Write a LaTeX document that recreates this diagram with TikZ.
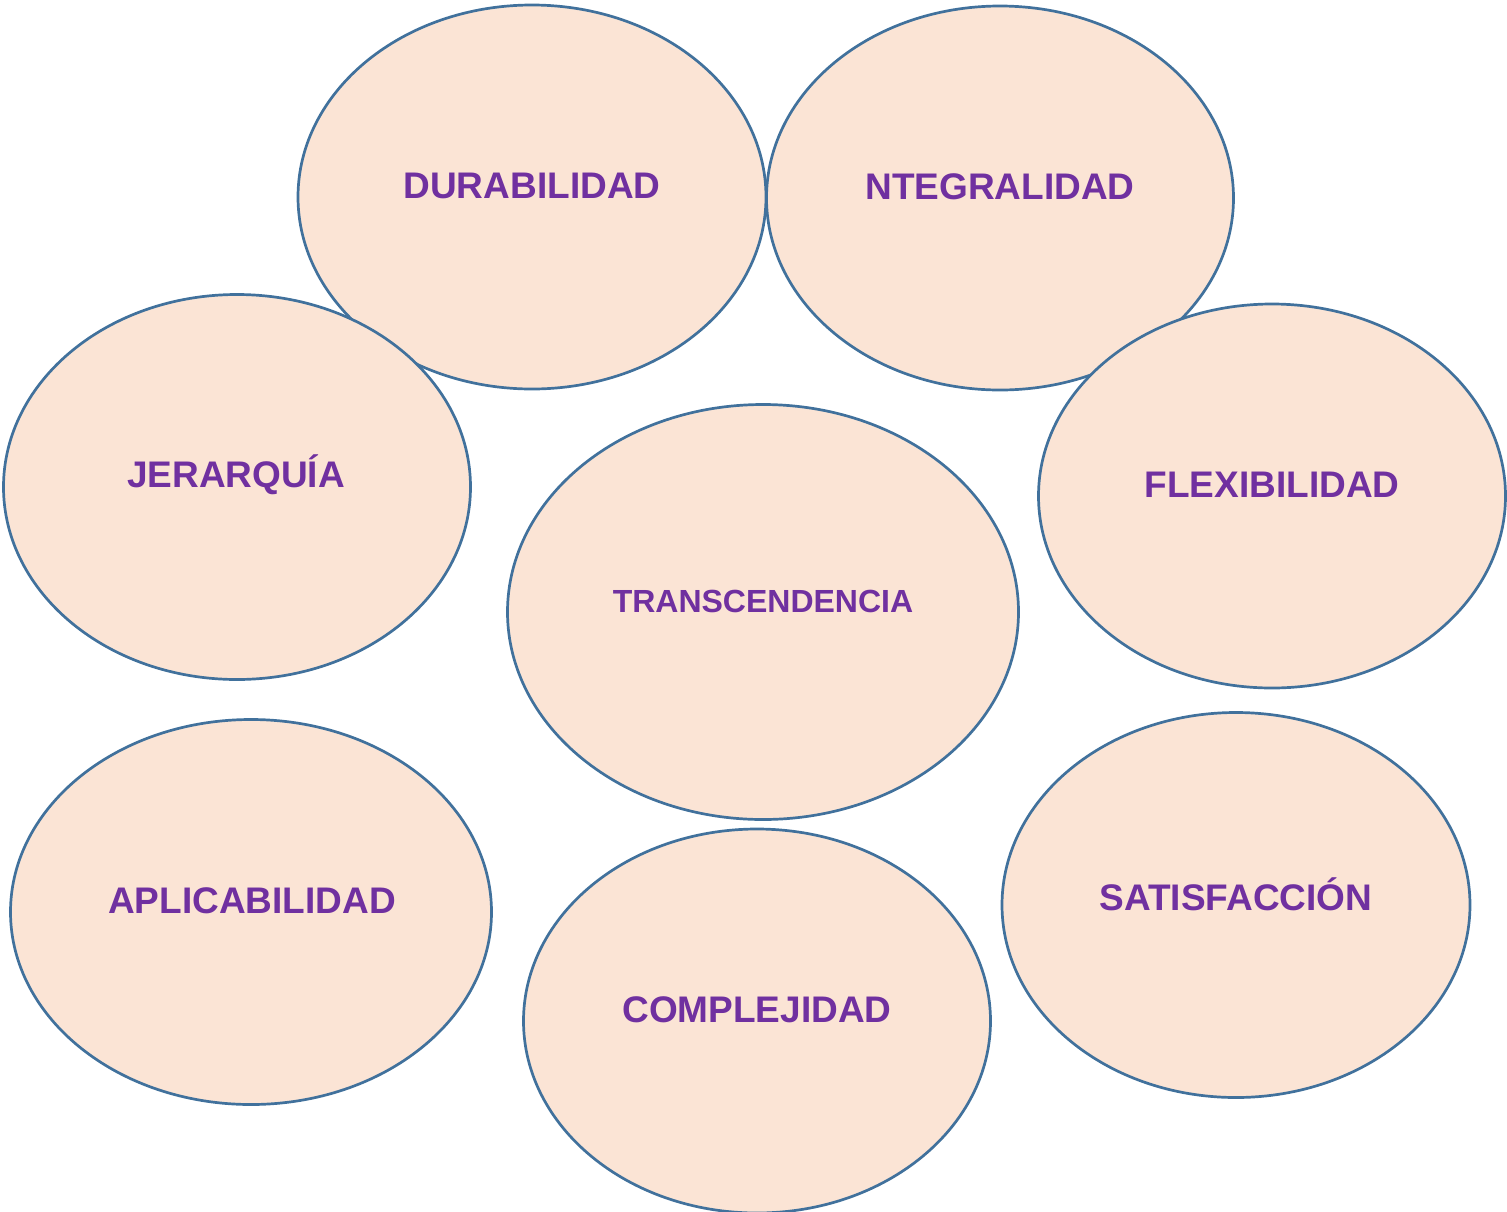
\documentclass[tikz,border=0pt]{standalone}
\usepackage{fontspec}
\setmainfont{Liberation Sans}
\usetikzlibrary{shapes.geometric}
\definecolor{ellfill}{HTML}{FBE4D5}
\definecolor{ellline}{HTML}{41719C}
\definecolor{txtpurple}{HTML}{7030A0}
\tikzset{
  bubble/.style={ellipse, draw=ellline, fill=ellfill, line width=2.7pt, inner sep=0pt, minimum width=#1},
  lbl/.style={text=txtpurple, font=\bfseries\fontsize{37}{40}\selectfont, inner sep=0pt, anchor=center},
  lblsmall/.style={text=txtpurple, font=\bfseries\fontsize{32}{35}\selectfont, inner sep=0pt, anchor=center}
}
\begin{document}
\begin{tikzpicture}[x=1pt,y=-1pt]
\useasboundingbox (0,0) rectangle (1507,1211);
\clip (0,0) rectangle (1507,1211);
\node[bubble=468pt, minimum height=384pt] (dur) at (532,197) {};
\node[bubble=467pt, minimum height=384pt] (int) at (1000,198) {};
\node[bubble=467pt, minimum height=385pt] (jer) at (237,487) {};
\node[bubble=467pt, minimum height=384pt] (fle) at (1272,496) {};
\node[bubble=511pt, minimum height=415pt] (tra) at (763,612) {};
\node[bubble=481pt, minimum height=385pt] (apl) at (251,912) {};
\node[bubble=468pt, minimum height=385pt] (sat) at (1236,905) {};
\node[bubble=467pt, minimum height=384pt] (com) at (757,1021) {};
\node[lbl] (tdur) at (532,186) {DURABILIDAD};
\node[lbl] (tint) at (1000,187) {NTEGRALIDAD};
\node[lbl] (tjer) at (236,475) {JERARQUÍA};
\node[lbl] (tfle) at (1272,485) {FLEXIBILIDAD};
\node[lblsmall] (ttra) at (763,601) {TRANSCENDENCIA};
\node[lbl] (tapl) at (252,901) {APLICABILIDAD};
\node[lbl] (tsat) at (1236,894) {SATISFACCIÓN};
\node[lbl] (tcom) at (757,1010) {COMPLEJIDAD};
\end{tikzpicture}
\end{document}
